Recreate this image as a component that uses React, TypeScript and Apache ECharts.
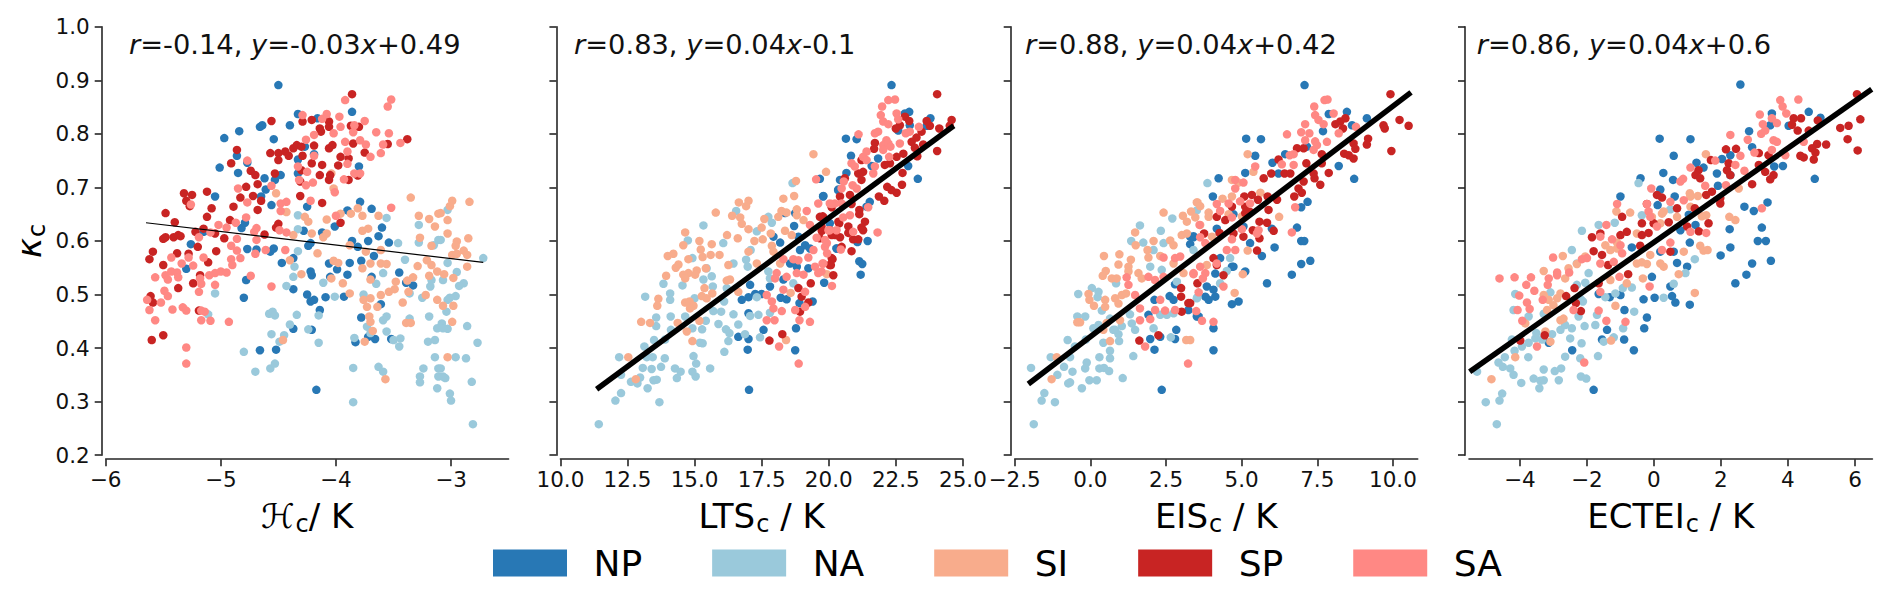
import React, { useEffect, useRef } from "react";
import * as echarts from "echarts";

const regions = ["NP", "NA", "SI", "SP", "SA"];
const regionColors = ["#2878b5", "#9ac9db", "#f8ac8c", "#c82423", "#ff8884"];
const yTicks = [0.2, 0.3, 0.4, 0.5, 0.6, 0.7, 0.8, 0.9, 1.0];
const xTicksH = [-6, -5, -4, -3];
const xTicksLTS = [10, 12.5, 15, 17.5, 20, 22.5, 25];
const xTicksEIS = [-2.5, 0, 2.5, 5, 7.5, 10];
const xTicksECTEI = [-4, -2, 0, 2, 4, 6];
const xNames = ["ℋ{sub|c}/ K", "LTS{sub|c} / K", "EIS{sub|c} / K", "ECTEI{sub|c} / K"];
const statTexts = [
  "{i|r}=-0.14, {i|y}=-0.03{i|x}+0.49",
  "{i|r}=0.83, {i|y}=0.04{i|x}-0.1",
  "{i|r}=0.88, {i|y}=0.04{i|x}+0.42",
  "{i|r}=0.86, {i|y}=0.04{i|x}+0.6",
];
const fitH = [[-5.65, 0.634], [-2.72, 0.56]];
const fitLTS = [[11.35, 0.323], [24.66, 0.815]];
const fitEIS = [[-2.05, 0.333], [10.6, 0.8775]];
const fitECTEI = [[-5.5, 0.356], [6.5, 0.883]];

const npH = [[-4.5,.891],[-4.33,.837],[-4.16,.829],[-3.86,.841],[-4.66,.813],[-4.64,.816],[-4.4,.816],[-4.84,.805],[-4.97,.792],[-4.54,.79],[-4.86,.759],[-4.77,.746],[-5.01,.737],[-4.85,.727],[-4.48,.723],[-4.53,.714],[-4.62,.717],[-4.61,.696],[-4.65,.683],[-4.56,.667],[-5.05,.683],[-4.33,.752],[-4.33,.726],[-4.25,.664],[-4.19,.762],[-4.27,.776],[-3.8,.739],[-3.79,.673],[-3.9,.657],[-3.69,.66],[-3.6,.625],[-3.63,.609],[-3.54,.597],[-3.72,.6],[-3.86,.6],[-3.81,.589],[-3.78,.563],[-3.67,.572],[-3.88,.559],[-4.06,.558],[-3.99,.547],[-3.9,.537],[-4.05,.533],[-3.45,.541],[-3.69,.533],[-3.39,.522],[-3.33,.517],[-3.61,.482],[-4.09,.495],[-3.93,.496],[-4.25,.5],[-4.22,.487],[-4.19,.49],[-4.14,.471],[-4.37,.51],[-4.21,.536],[-4.22,.543],[-4.24,.591],[-4.22,.596],[-4.28,.619],[-4.01,.627],[-4.12,.616],[-4.77,.585],[-4.82,.624],[-4.79,.634],[-5.15,.617],[-5.26,.594],[-5.3,.548],[-4.78,.527],[-4.8,.494],[-4.57,.58],[-4.54,.586],[-4.47,.559],[-4.37,.568],[-4.69,.584],[-4.37,.436],[-4.21,.434],[-4.66,.396],[-4.52,.397],[-3.78,.457],[-3.72,.421],[-3.66,.417],[-3.83,.411],[-3.52,.417],[-4.17,.322]];
const naH = [[-5.05,.502],[-5.11,.463],[-4.8,.393],[-4.7,.356],[-4.57,.362],[-4.53,.371],[-4.56,.426],[-4.45,.424],[-4.49,.412],[-4.58,.464],[-4.55,.468],[-4.53,.461],[-4.34,.462],[-4.4,.444],[-4.24,.435],[-4.15,.41],[-4.15,.461],[-4.43,.516],[-4.37,.533],[-4.36,.552],[-4.33,.581],[-4.33,.622],[-4.33,.648],[-4.11,.522],[-4.01,.496],[-3.85,.363],[-3.84,.419],[-3.85,.299],[-3.76,.5],[-3.65,.52],[-3.59,.54],[-3.46,.596],[-3.56,.643],[-3.4,.565],[-3.28,.63],[-3.28,.597],[-3.36,.502],[-3.36,.455],[-3.59,.452],[-3.56,.459],[-3.56,.431],[-3.5,.415],[-3.44,.418],[-3.45,.403],[-3.63,.365],[-3.59,.356],[-3.73,.44],[-3.7,.428],[-3.19,.459],[-3.25,.494],[-3.18,.515],[-3.17,.527],[-3.15,.592],[-3.11,.602],[-3.2,.412],[-3.14,.415],[-3.14,.383],[-3.24,.362],[-3.27,.347],[-3.27,.336],[-3.12,.325],[-3.11,.362],[-3.11,.347],[-3.12,.437],[-2.72,.568],[-2.77,.41],[-2.86,.441],[-2.87,.381],[-2.96,.383],[-2.82,.337],[-3.01,.315],[-3,.302],[-2.81,.258],[-3.05,.344],[-3.07,.347],[-3.09,.362],[-3.03,.658],[-3.09,.602],[-3.03,.559],[-2.95,.542],[-2.89,.521],[-2.93,.516],[-2.96,.497],[-3.01,.494],[-3.03,.49],[-3.04,.468],[-3.08,.446],[-3.03,.436],[-3.07,.437],[-3.07,.527]];
const siH = [[-4.52,.689],[-4.46,.415],[-4.43,.654],[-4.3,.538],[-4.4,.564],[-4.37,.611],[-4.27,.645],[-4.24,.636],[-4.21,.614],[-4.16,.577],[-4.08,.64],[-4.11,.607],[-4.08,.614],[-4.02,.563],[-3.98,.559],[-4.04,.53],[-3.94,.521],[-3.88,.502],[-3.96,.651],[-3.87,.651],[-3.81,.661],[-3.77,.647],[-3.63,.647],[-3.72,.623],[-3.77,.619],[-3.88,.592],[-3.74,.58],[-3.61,.583],[-3.77,.549],[-3.7,.558],[-3.61,.558],[-3.56,.557],[-3.7,.528],[-3.61,.499],[-3.54,.505],[-3.48,.524],[-3.49,.51],[-3.76,.49],[-3.7,.493],[-3.73,.477],[-3.64,.477],[-3.71,.459],[-3.7,.449],[-3.68,.432],[-3.75,.412],[-3.57,.342],[-3.42,.485],[-3.38,.526],[-3.33,.532],[-3.37,.505],[-3.29,.553],[-3.39,.447],[-3.35,.447],[-3.35,.681],[-3.28,.647],[-3.19,.641],[-3.14,.627],[-3.27,.606],[-3.17,.591],[-3.21,.564],[-3.17,.555],[-3.19,.535],[-3.12,.543],[-3.22,.499],[-3.12,.49],[-3.11,.651],[-4.04,.726],[-4.02,.698],[-2.84,.673],[-2.99,.675],[-3.01,.665],[-3.03,.639],[-3.03,.614],[-2.85,.605],[-2.95,.599],[-2.96,.591],[-2.89,.582],[-2.99,.574],[-2.95,.576],[-2.86,.574],[-2.86,.552],[-2.98,.531],[-3.06,.538],[-2.98,.479],[-3.07,.479],[-2.99,.449],[-3.03,.383],[-3.09,.652]];
const spH = [[-3.86,.874],[-3.38,.79],[-4.56,.824],[-4.29,.823],[-4.21,.826],[-4.06,.823],[-4.06,.813],[-4.14,.81],[-4.13,.804],[-3.87,.815],[-3.8,.813],[-4.86,.77],[-4.91,.745],[-4.74,.731],[-4.7,.723],[-4.57,.764],[-4.5,.764],[-4.5,.751],[-4.44,.767],[-4.41,.759],[-4.37,.773],[-4.34,.779],[-4.3,.776],[-4.29,.759],[-4.19,.778],[-4.06,.773],[-4.03,.779],[-3.85,.782],[-3.75,.765],[-3.55,.781],[-3.96,.757],[-3.89,.754],[-3.98,.741],[-4.12,.742],[-4.21,.745],[-4.3,.732],[-4.53,.726],[-4.14,.723],[-4.05,.723],[-4.06,.714],[-3.89,.714],[-3.81,.722],[-4.31,.711],[-4.31,.684],[-4.12,.671],[-4.68,.706],[-4.78,.701],[-4.72,.684],[-4.83,.681],[-4.65,.675],[-4.68,.658],[-4.89,.664],[-5.12,.692],[-5.32,.689],[-5.25,.686],[-5.3,.675],[-5.27,.665],[-5.08,.661],[-5.48,.652],[-5.12,.645],[-5.4,.635],[-4.92,.639],[-4.5,.632],[-4.52,.625],[-3.96,.634],[-5.15,.623],[-5.22,.617],[-5.5,.604],[-5.48,.607],[-5.41,.607],[-5.37,.611],[-5.35,.609],[-5.05,.614],[-4.97,.605],[-4.62,.612],[-5.2,.589],[-5.38,.577],[-5.59,.58],[-5.62,.566],[-5.04,.581],[-5.5,.555],[-5.28,.576],[-5.11,.56],[-5.24,.521],[-5.37,.512],[-5.18,.536],[-5.61,.497],[-5.59,.485],[-5.19,.47],[-5.6,.415],[-5.5,.424]];
const saH = [[-3.92,.863],[-3.52,.864],[-3.55,.851],[-4.29,.835],[-4.08,.837],[-4.12,.828],[-3.97,.832],[-3.84,.816],[-3.75,.824],[-3.96,.813],[-4.02,.801],[-3.85,.803],[-4.19,.798],[-4.26,.789],[-3.65,.803],[-3.54,.801],[-3.92,.785],[-3.79,.788],[-3.74,.78],[-3.59,.78],[-3.44,.783],[-3.9,.767],[-3.61,.764],[-3.7,.757],[-3.9,.744],[-4.19,.759],[-4.33,.739],[-4.25,.729],[-4.77,.75],[-3.84,.726],[-3.79,.726],[-3.93,.715],[-4.32,.714],[-4.2,.709],[-4.26,.704],[-4.56,.703],[-4.85,.698],[-4.01,.691],[-4.22,.675],[-4.77,.672],[-4.48,.67],[-4.43,.673],[-4.48,.656],[-5.26,.668],[-3.52,.662],[-4,.647],[-4.78,.644],[-4.87,.634],[-5.02,.63],[-4.95,.625],[-4.69,.624],[-4.71,.617],[-5.09,.616],[-4.49,.62],[-4.43,.616],[-5.19,.607],[-4.86,.604],[-4.69,.602],[-4.91,.591],[-4.86,.582],[-4.61,.583],[-4.44,.583],[-4.7,.576],[-4.91,.566],[-4.83,.568],[-5.15,.569],[-5.28,.569],[-5.43,.569],[-5.34,.558],[-5.24,.554],[-4.9,.555],[-5.57,.532],[-5.48,.536],[-5.43,.543],[-5.38,.541],[-5.46,.528],[-5.37,.532],[-5.1,.536],[-5.05,.54],[-5,.543],[-4.95,.541],[-4.74,.535],[-5.18,.53],[-5.17,.52],[-5.05,.518],[-5.19,.505],[-5.49,.507],[-5.46,.497],[-4.56,.515],[-5.64,.49],[-5.52,.485],[-5.62,.471],[-5.42,.472],[-5.33,.476],[-5.3,.47],[-5.17,.47],[-5.14,.468],[-5.57,.452],[-5.17,.452],[-5.09,.451],[-4.93,.449],[-5.3,.401],[-5.3,.371]];

const npL = [[22.34,.891],[23,.841],[22.84,.838],[23.79,.829],[23.65,.815],[20.64,.791],[21.04,.79],[20.83,.759],[22.59,.806],[23.02,.816],[21.84,.754],[21.6,.74],[20.66,.727],[22.96,.74],[23.32,.716],[19.67,.716],[20.42,.714],[19.79,.683],[21.53,.673],[21.41,.664],[21.45,.6],[21.07,.598],[21.14,.562],[21.25,.557],[21.19,.537],[19.83,.522],[20.29,.586],[20.04,.633],[20.35,.695],[20.36,.696],[18.71,.628],[18.75,.652],[18.19,.597],[19.12,.592],[19.3,.586],[20.3,.586],[18.56,.558],[18.81,.552],[19.24,.549],[18.31,.528],[17.81,.515],[18.21,.494],[18.43,.491],[16.76,.49],[17.01,.495],[17.26,.501],[17.5,.501],[19.4,.487],[18.91,.484],[17.01,.465],[17.57,.434],[18.78,.437],[16.63,.421],[17.01,.417],[16.98,.397],[18.75,.396],[17.03,.322],[17.07,.518],[18.37,.652],[17.94,.608],[18.87,.608],[18.93,.583],[19.8,.684]];
const naL = [[11.43,.258],[12.05,.302],[12.26,.316],[13.69,.299],[13.25,.325],[12.63,.337],[12.87,.334],[13.47,.34],[13.59,.341],[14.34,.344],[15.04,.347],[12.26,.35],[12.97,.345],[13.07,.363],[13.4,.361],[13.75,.365],[14.27,.362],[14.48,.356],[14.92,.356],[15.06,.371],[15.58,.362],[12.19,.383],[13.22,.383],[13.44,.383],[13.89,.381],[14.96,.385],[16.11,.393],[13.13,.403],[13.49,.415],[13.9,.416],[15.2,.41],[15.3,.409],[16.26,.413],[16.88,.426],[17.44,.42],[16.3,.428],[16.17,.435],[15.28,.435],[14.92,.437],[14.12,.434],[13.57,.441],[16.63,.444],[15.89,.445],[13.57,.457],[14.11,.459],[14.65,.459],[15.42,.451],[15.7,.469],[15.99,.468],[16.45,.463],[17.07,.46],[17.38,.462],[13.16,.496],[14.09,.49],[14.09,.502],[13.84,.52],[14.55,.517],[15,.493],[15.33,.528],[15.64,.534],[15.68,.515],[16.1,.487],[16.2,.512],[16.45,.558],[15.33,.629],[14.75,.601],[14.92,.568],[15.45,.549],[16.92,.565],[16.98,.552],[16.07,.596],[16.55,.656],[17.09,.583],[17.32,.618],[17.75,.645],[17.88,.634],[17.75,.543],[17.81,.53],[18.68,.521],[17.32,.495],[18.65,.708],[17.81,.466]];
const siL = [[19.43,.762],[19.9,.729],[18.78,.712],[18.71,.684],[18.31,.679],[16.65,.672],[17.01,.675],[16.92,.665],[15.79,.653],[16.4,.647],[16.7,.644],[16.76,.632],[17.01,.622],[17.5,.625],[17.6,.641],[18.12,.645],[18.24,.656],[18.43,.653],[18.81,.659],[18.81,.648],[19.06,.639],[14.65,.616],[16.21,.611],[16.61,.605],[15.18,.6],[14.58,.592],[15.64,.594],[17.23,.6],[17.54,.603],[17.84,.614],[18.37,.619],[18.62,.611],[17.88,.591],[17.01,.58],[15.23,.584],[14,.572],[14.21,.576],[14.77,.566],[15.3,.57],[15.6,.574],[15.93,.574],[17.32,.558],[17.94,.58],[18.19,.558],[16.26,.555],[14.4,.556],[14.3,.55],[15.42,.549],[15.08,.545],[14.77,.54],[14.58,.537],[13.94,.535],[15.02,.537],[14.65,.53],[16.2,.526],[16.32,.528],[15.37,.512],[16.63,.505],[15.66,.502],[15.27,.497],[15.45,.493],[13.65,.492],[13.61,.479],[14.65,.485],[14.81,.487],[14.96,.479],[14.83,.474],[13.01,.449],[13.34,.447],[14.37,.447],[15.18,.451],[14.71,.431],[14.92,.413],[18.41,.415],[12.53,.383],[12.81,.342],[18.58,.503],[19.93,.538]];
const spL = [[24.04,.874],[24.58,.826],[24.51,.815],[24.04,.768],[24.12,.81],[23.77,.815],[23.65,.824],[23.46,.804],[23.52,.78],[22.84,.832],[23,.824],[22.65,.816],[22.5,.81],[21.72,.783],[21.69,.772],[23.27,.793],[23.09,.785],[23.21,.774],[23.3,.758],[22.78,.763],[22.53,.757],[22.28,.745],[22.09,.742],[22.75,.727],[22.73,.705],[22.53,.69],[22.34,.695],[22.18,.701],[22.07,.675],[21.87,.683],[21.22,.751],[21.1,.726],[21.28,.729],[21.22,.714],[20.6,.717],[20.79,.686],[20.42,.683],[20.85,.669],[21.14,.658],[21.14,.65],[21.35,.636],[21.22,.625],[21.28,.62],[20.73,.627],[20.73,.615],[20.91,.603],[21.1,.603],[20.39,.633],[20.23,.611],[20.42,.607],[20.48,.589],[20.85,.581],[20.14,.566],[20.04,.555],[20.17,.536],[19.73,.627],[19.67,.605],[19.67,.645],[19.78,.646],[20.11,.663],[20.05,.62],[19.74,.619],[20.11,.611],[20.36,.636],[20.11,.568],[20.08,.555],[19.33,.521],[18.87,.512],[18.99,.496],[19.24,.485],[18.93,.468],[18.27,.426],[17.79,.414]];
const saL = [[22.22,.863],[22.47,.864],[21.99,.851],[21.94,.835],[22.53,.838],[22.59,.827],[22.03,.823],[22.22,.818],[23.36,.813],[23.02,.804],[22.87,.801],[21.84,.804],[21.72,.801],[21.11,.799],[22.15,.788],[22.03,.779],[22.22,.782],[22.03,.77],[22.3,.776],[22.65,.782],[21.41,.767],[21.28,.757],[21.41,.751],[22.25,.757],[20.85,.745],[20.97,.739],[21.72,.739],[21.66,.726],[20.56,.711],[20.48,.698],[20.89,.704],[21.04,.698],[20.48,.67],[20.23,.67],[20.04,.67],[21.47,.663],[20.79,.648],[20.54,.644],[21.82,.616],[20.91,.617],[20.04,.62],[20.29,.62],[19.86,.602],[19.86,.589],[19.94,.577],[19.77,.558],[19.73,.543],[20.45,.584],[20.12,.516],[19.53,.715],[19.18,.656],[19.61,.67],[20.11,.669],[19.3,.63],[19.55,.606],[19.99,.62],[19.93,.596],[19.43,.583],[19.24,.569],[19.49,.552],[19.8,.558],[19.61,.54],[18.68,.566],[18.31,.566],[18.87,.564],[18.81,.54],[19.06,.537],[18.06,.54],[18.43,.533],[18,.53],[17.69,.499],[18.31,.509],[19.12,.505],[17.88,.487],[17.94,.474],[18.25,.469],[18.75,.471],[19.12,.477],[17.69,.452],[17.98,.452],[18.91,.452],[19.3,.449],[18.15,.403],[18.88,.371]];

const npE = [[7.08,.891],[8.48,.841],[7.88,.837],[9.14,.829],[8.65,.816],[7.69,.805],[5.15,.791],[5.64,.79],[5.45,.759],[6.02,.746],[6.44,.762],[8.21,.74],[8.72,.716],[5.12,.727],[4.24,.717],[4.05,.683],[7.18,.673],[6.97,.663],[6.83,.625],[6.97,.6],[7.07,.6],[6.09,.588],[5.67,.572],[7.27,.563],[6.97,.557],[6.66,.537],[5.84,.521],[4.73,.552],[4.68,.552],[4.13,.539],[4.29,.568],[3.85,.515],[4.07,.509],[3.8,.496],[3.91,.49],[4.13,.496],[4.68,.482],[4.9,.487],[3.58,.459],[4.07,.437],[4.07,.396],[5.12,.543],[4.18,.623],[4.73,.65],[6,.623],[5.28,.596],[3.3,.608],[3.41,.607],[6.22,.726],[7.16,.776],[5.06,.627],[2.36,.322],[2.12,.397],[1.98,.417],[2.31,.421],[2.8,.417],[2.84,.434],[1.92,.462],[3.52,.459],[3.24,.471],[2.62,.497],[2.12,.49],[2.75,.49],[2.8,.519],[3.3,.594],[3.41,.609]];
const naE = [[-1.87,.258],[-1.61,.302],[-1.52,.316],[-1.17,.299],[-.28,.325],[-.67,.336],[-.73,.334],[-.03,.34],[.21,.34],[1.07,.344],[-1.96,.363],[-1.09,.35],[-.59,.356],[-.17,.362],[-.12,.373],[.3,.362],[.45,.363],[.62,.357],[-.87,.365],[-1.31,.383],[-.67,.383],[.3,.383],[.65,.381],[1.42,.385],[.65,.395],[-.51,.403],[-.75,.415],[.43,.41],[.95,.413],[2.66,.42],[-.15,.416],[.93,.426],[.1,.437],[.82,.434],[1.48,.434],[1.37,.446],[2.09,.437],[1.04,.441],[.27,.443],[.65,.455],[.76,.434],[-.43,.459],[-.17,.459],[1.31,.463],[.38,.47],[2.31,.462],[2.53,.462],[2.75,.465],[-.4,.501],[.05,.512],[.27,.505],[.24,.495],[3.52,.493],[.85,.521],[2.86,.524],[2.36,.546],[1.98,.552],[2.09,.583],[2.33,.619],[1.64,.629],[1.35,.6],[1.75,.597],[2.42,.596],[2.71,.642],[3.87,.708],[3.41,.583],[3.54,.495],[4.62,.568],[4.29,.521],[4.51,.544],[3.52,.657]];
const siE = [[2.42,.653],[3.06,.647],[3.33,.655],[3.52,.672],[3.19,.636],[1.48,.616],[2.09,.6],[1.5,.592],[2.64,.601],[2.75,.592],[3.02,.611],[3.19,.614],[.45,.572],[.96,.575],[1.89,.583],[1.92,.569],[1.34,.565],[.93,.556],[1.26,.552],[2.31,.572],[.51,.544],[.41,.535],[1.26,.543],[1.59,.54],[.71,.53],[.87,.53],[1.7,.53],[2.75,.558],[-.06,.501],[-.03,.49],[.12,.479],[.49,.49],[.49,.477],[.82,.493],[.93,.483],[1.04,.499],[1.18,.502],[-.43,.448],[-.34,.448],[.54,.447],[.98,.452],[.43,.434],[.65,.413],[3.17,.415],[-1.11,.383],[-1.28,.342],[3.08,.54],[5.2,.762],[5.39,.729],[4.68,.714],[4.9,.709],[5.62,.69],[4.68,.683],[4.37,.679],[3.54,.672],[3.63,.665],[3.91,.653],[3.91,.645],[3.47,.644],[6.24,.645],[5.01,.646],[3.63,.63],[4.02,.608],[5.2,.582],[3.85,.555],[5.04,.538],[4.77,.503],[3.3,.415],[4.57,.65]];
const spE = [[9.92,.874],[10.22,.826],[10.52,.815],[9.69,.816],[9.73,.81],[9.95,.768],[9.18,.791],[9.14,.78],[8.7,.782],[8.76,.772],[8.43,.829],[8.26,.823],[8.1,.818],[8.35,.81],[8.39,.763],[8.54,.76],[8.7,.754],[7.65,.762],[7.65,.745],[7.88,.727],[7.6,.705],[7.41,.717],[7.38,.726],[7.14,.745],[7.05,.773],[6.83,.773],[6.22,.752],[6.42,.726],[6.61,.726],[5.98,.726],[5.73,.717],[7.05,.711],[6.88,.698],[6.99,.69],[6.74,.683],[6.17,.677],[5.86,.683],[5.54,.677],[5.34,.686],[5.09,.683],[5.12,.664],[5.89,.658],[5.28,.654],[4.46,.639],[4.18,.645],[4.68,.664],[5.59,.636],[5.84,.634],[6.06,.619],[5.59,.605],[5.37,.62],[5.06,.608],[5.51,.582],[4.73,.614],[4.27,.615],[3.76,.614],[4.07,.568],[4.18,.555],[4.4,.536],[3.54,.521],[5.12,.652],[3.3,.484],[3,.512],[3,.496],[3.24,.484],[3.02,.468],[2.25,.424],[1.62,.414]];
const saE = [[7.74,.863],[7.84,.864],[7.4,.851],[8.04,.838],[7.43,.835],[7.1,.818],[7.54,.826],[7.71,.818],[6.5,.799],[6.97,.803],[7.24,.801],[7.1,.788],[7.43,.786],[8.21,.801],[8.78,.813],[7.82,.785],[7.38,.77],[7.49,.779],[6.72,.762],[6.59,.76],[6.33,.743],[6.72,.742],[5.45,.739],[4.79,.714],[5.06,.709],[4.79,.698],[4.18,.669],[4.57,.67],[4.95,.674],[5.28,.67],[6.77,.663],[4.29,.656],[4.68,.644],[5.01,.622],[5.56,.62],[5.51,.614],[6.66,.616],[3.61,.63],[3.63,.607],[4.68,.603],[3.8,.596],[4.79,.583],[4.51,.583],[4.18,.558],[3.63,.552],[3.41,.538],[3.8,.54],[3.72,.53],[4.4,.515],[3.58,.504],[4.07,.449],[3.69,.451],[3.5,.469],[3.23,.371],[1.81,.403],[1.98,.454],[1.64,.452],[2.14,.471],[2.47,.47],[2.8,.471],[1.64,.474],[1.48,.499],[2.31,.49],[1.26,.518],[1.2,.532],[1.92,.533],[2.14,.527],[2.42,.533],[2.42,.569],[2.8,.568],[2.97,.571],[3.41,.54]];

const npC = [[2.58,.892],[3.52,.838],[4.62,.841],[4.97,.83],[3.47,.816],[4.02,.815],[2.84,.805],[.17,.791],[1.09,.79],[2.93,.775],[.59,.759],[1.27,.746],[2.28,.76],[2.03,.753],[1.48,.737],[3.85,.74],[3.59,.739],[1.88,.726],[2.28,.723],[4.8,.716],[-.4,.717],[.28,.727],[.57,.714],[.19,.696],[1.91,.703],[-1,.683],[.62,.683],[.11,.667],[2.7,.664],[2.98,.656],[3.39,.672],[1.04,.649],[3.22,.625],[1.24,.63],[.79,.62],[2.26,.622],[3.1,.6],[3.34,.6],[2.28,.588],[1.07,.597],[1.99,.573],[-.66,.588],[3.49,.563],[2.93,.558],[2.76,.537],[.69,.559],[.99,.552],[2.43,.521],[-.06,.533],[.49,.515],[.02,.494],[-.31,.491],[.54,.497],[.64,.485],[1.07,.481],[-1.32,.495],[-1,.499],[-1.65,.501],[-.88,.471],[-.21,.457],[-.29,.437],[-1.4,.434],[-1.55,.416],[-.89,.416],[-3.14,.41],[-2.44,.396],[-.6,.396],[-1.8,.322],[.59,.58],[.19,.58]];
const naC = [[-4.69,.258],[-5.02,.299],[-4.61,.302],[-4.53,.315],[-3.42,.325],[-3.96,.335],[-3.59,.343],[-3.39,.339],[-3.29,.34],[-2.84,.34],[-2.18,.347],[-2.02,.343],[-4.19,.35],[-5.28,.356],[-4.64,.373],[-4.51,.365],[-4.29,.362],[-3.29,.36],[-2.96,.357],[-2.77,.362],[-2.2,.381],[-4.45,.383],[-3.75,.383],[-2.65,.384],[-1.67,.385],[-4.16,.395],[-2.16,.409],[-1.5,.412],[-1.2,.42],[-4.24,.416],[-3.94,.403],[-3.74,.41],[-3.54,.418],[-3.34,.416],[-2.5,.418],[-3.04,.426],[-3.51,.428],[-.92,.437],[-1.75,.443],[-2.07,.441],[-2.79,.434],[-2.65,.443],[-2.45,.437],[-2.25,.459],[-1.7,.462],[-.59,.468],[-3.74,.459],[-4.19,.471],[-3.29,.464],[-2.18,.491],[.29,.494],[-4.14,.501],[-2.12,.487],[-1.45,.495],[-3.09,.504],[-2.05,.522],[-2.3,.518],[-1.15,.502],[-.93,.512],[-.66,.513],[.59,.52],[.94,.54],[1.22,.566],[-1.95,.54],[-2.45,.583],[-2.3,.558],[-2.15,.619],[-1.65,.63],[-1.17,.634],[-.46,.708],[-.36,.648],[.49,.659]];
const siC = [[1.55,.762],[2.53,.698],[1.07,.689],[1.31,.684],[1.43,.646],[2.25,.645],[2.43,.639],[-.71,.653],[-1.12,.655],[.69,.645],[.24,.651],[1.09,.664],[1.56,.648],[-2.72,.572],[-3.29,.544],[-2.55,.549],[-2.3,.557],[-2.05,.571],[-1.45,.592],[-1.3,.583],[-1.1,.586],[-.51,.614],[-1.1,.597],[-.11,.574],[-.51,.558],[-.36,.56],[-.21,.557],[.19,.558],[.29,.552],[-.06,.645],[.19,.633],[1.38,.591],[1.48,.582],[1.6,.583],[.89,.58],[.74,.538],[-.33,.53],[1.22,.503],[-.81,.521],[-1.3,.527],[-1.15,.479],[-2.65,.53],[-3.29,.499],[-3.14,.49],[-2.89,.493],[-2.79,.502],[-3,.48],[-3.19,.471],[-2.79,.452],[-2.7,.455],[-3.24,.431],[-3.09,.412],[-1.28,.414],[-4.14,.383],[-4.85,.342],[-3.84,.446],[.29,.655],[1.09,.683]];
const spC = [[6.06,.874],[6.16,.827],[5.81,.815],[5.56,.811],[5.78,.79],[6.08,.769],[5.14,.78],[4.89,.825],[4.17,.829],[4.39,.829],[4.12,.817],[4.29,.806],[4.62,.806],[4.87,.781],[4.72,.773],[4.82,.765],[4.77,.752],[4.37,.759],[4.47,.756],[3.13,.764],[2.45,.772],[2.15,.771],[3.42,.76],[3.13,.742],[3.32,.729],[3.57,.723],[3.47,.715],[2.23,.745],[2.18,.732],[2.28,.723],[1.7,.751],[1.33,.732],[1.24,.723],[1.38,.717],[2.93,.706],[1.73,.692],[1.56,.686],[1.98,.68],[1.98,.67],[.09,.686],[.24,.681],[-.21,.669],[.69,.661],[1.22,.661],[-.95,.645],[.44,.635],[.99,.627],[1.63,.633],[-.01,.633],[-.36,.633],[-.81,.617],[-1,.611],[-.36,.611],[-.16,.615],[1.34,.618],[-1.85,.607],[-1.6,.614],[-.41,.591],[.49,.58],[-1.8,.581],[-1.55,.574],[-1.37,.555],[-.77,.538],[-2.37,.512],[-2.62,.497],[-2.33,.484],[-2.18,.469],[-3.26,.424],[-3.99,.414],[-1.65,.521]];
const saC = [[3.77,.863],[4.31,.864],[3.84,.851],[3.95,.838],[3.16,.836],[3.52,.829],[3.25,.818],[3.67,.82],[2.28,.798],[3.2,.8],[3.32,.806],[2.8,.789],[3.57,.788],[3.67,.785],[3,.765],[3.52,.77],[4.47,.785],[3.92,.76],[2.58,.759],[1.83,.75],[2.43,.742],[1.09,.737],[2.7,.731],[.79,.711],[.87,.716],[1.53,.703],[2.15,.704],[-.08,.698],[3.22,.661],[.89,.676],[.49,.673],[-1.1,.669],[-.21,.669],[-.16,.655],[-.11,.645],[.09,.627],[-1.42,.63],[1.09,.617],[1.56,.615],[-1.6,.608],[-1.25,.603],[-1,.592],[.49,.597],[.24,.583],[-3.01,.569],[-2.15,.566],[-2,.568],[-1.6,.558],[-.95,.577],[-1.2,.561],[-2.89,.541],[-2.53,.541],[-3.14,.53],[-4.61,.53],[-4.16,.532],[-3.67,.532],[-2.89,.536],[-3.81,.518],[-3.57,.507],[-3.17,.518],[-1.03,.533],[-.13,.515],[-1.6,.505],[-4.02,.498],[-3.32,.49],[-3.79,.485],[-3.71,.473],[-4.07,.471],[-1.65,.47],[-2.4,.471],[-3.93,.451],[-1.42,.451],[-.85,.449],[-3.49,.403],[-2.08,.373]];

const FONT = "DejaVu Sans";
const INK = "#262626";

const panels = [
  { left: 105.7, right: 508.6, min: -6, max: -2.5, ticks: xTicksH, digits: 0, fit: fitH, fitWidth: 1.2, textX: 129, sets: [npH, naH, siH, spH, saH] },
  { left: 560.4, right: 962.9, min: 10, max: 25, ticks: xTicksLTS, digits: 1, fit: fitLTS, fitWidth: 5.5, textX: 574, sets: [npL, naL, siL, spL, saL] },
  { left: 1014.7, right: 1417.7, min: -2.5, max: 10.82, ticks: xTicksEIS, digits: 1, fit: fitEIS, fitWidth: 5.5, textX: 1025, sets: [npE, naE, siE, spE, saE] },
  { left: 1469, right: 1872.4, min: -5.52, max: 6.52, ticks: xTicksECTEI, digits: 0, fit: fitECTEI, fitWidth: 5.5, textX: 1476.7, sets: [npC, naC, siC, spC, saC] },
];

const subRich = {
  sub: { fontSize: 24, fontFamily: FONT, color: "#000", padding: [16, 0, 0, 1] },
  i: { fontSize: 34, fontFamily: FONT, fontStyle: "italic", color: "#000" },
};

function buildOption() {
  const axisLine = { show: true, lineStyle: { color: INK, width: 1.6 } };
  const axisTick = { show: true, length: 7, lineStyle: { color: INK, width: 1.6 } };
  return {
    animation: false,
    backgroundColor: "#fff",
    textStyle: { fontFamily: FONT },
    legend: {
      data: regions,
      left: 493,
      top: 545,
      icon: "rect",
      itemWidth: 74,
      itemHeight: 27,
      itemGap: 70,
      selectedMode: false,
      padding: 0,
      textStyle: { fontSize: 36, fontFamily: FONT, color: "#000", padding: [0, 0, 0, 21.5] },
    },
    grid: panels.map((p) => ({ left: p.left, width: p.right - p.left, top: 26.7, height: 428.5, containLabel: false })),
    xAxis: panels.map((p, i) => ({
      type: "value",
      gridIndex: i,
      min: p.min,
      max: p.max,
      offset: 4,
      splitLine: { show: false },
      axisLine: { ...axisLine, onZero: false },
      axisTick: { ...axisTick, customValues: p.ticks },
      axisLabel: {
        customValues: p.ticks,
        fontSize: 21.5,
        fontFamily: FONT,
        color: "#111",
        margin: 9,
        hideOverlap: false,
        formatter: (v: number) => v.toFixed(p.digits).replace("-", "\u2212"),
      },
      name: xNames[i],
      nameLocation: "middle",
      nameGap: 37,
      nameMoveOverlap: false,
      nameTextStyle: { fontSize: 34, fontFamily: FONT, color: "#000", rich: subRich },
    })),
    yAxis: panels.map((p, i) => ({
      type: "value",
      gridIndex: i,
      min: 0.2,
      max: 1.0,
      offset: 4,
      splitLine: { show: false },
      axisLine: { ...axisLine, onZero: false },
      axisTick: { ...axisTick, customValues: yTicks },
      axisLabel: {
        show: i === 0,
        customValues: yTicks,
        fontSize: 21.5,
        fontFamily: FONT,
        color: "#111",
        margin: 12,
        formatter: (v: number) => v.toFixed(1),
      },
      name: i === 0 ? "{i|κ}{sub|c}" : "",
      nameLocation: "middle",
      nameGap: 53,
      nameMoveOverlap: false,
      nameTextStyle: { fontSize: 34, fontFamily: FONT, color: "#000", rich: subRich },
    })),
    series: panels.flatMap((p, i) => [
      ...regions.map((name, r) => ({
        name,
        type: "scatter",
        xAxisIndex: i,
        yAxisIndex: i,
        symbolSize: 8.5,
        clip: false,
        silent: true,
        itemStyle: { color: regionColors[r], opacity: 1 },
        data: p.sets[r],
        z: 2,
      })),
      {
        type: "line",
        xAxisIndex: i,
        yAxisIndex: i,
        data: p.fit,
        symbol: "none",
        silent: true,
        clip: false,
        z: 5,
        lineStyle: { color: "#000", width: p.fitWidth, cap: "butt" },
      },
    ]),
    graphic: panels.map((p, i) => ({
      type: "text",
      x: p.textX,
      y: 44,
      silent: true,
      style: {
        text: statTexts[i],
        fontSize: 27.3,
        fontFamily: FONT,
        fill: "#111",
        verticalAlign: "middle",
        rich: { i: { fontSize: 27.3, fontFamily: FONT, fontStyle: "italic", fill: "#111" } },
      },
    })),
  };
}

export default function App() {
  const ref = useRef<HTMLDivElement>(null);
  useEffect(() => {
    if (!ref.current) return;
    const chart = echarts.init(ref.current, undefined, { renderer: "svg" });
    chart.setOption(buildOption() as any);
    return () => chart.dispose();
  }, []);
  return <div ref={ref} style={{ position: "absolute", left: 0, top: 0, width: 1892, height: 591 }} />;
}
